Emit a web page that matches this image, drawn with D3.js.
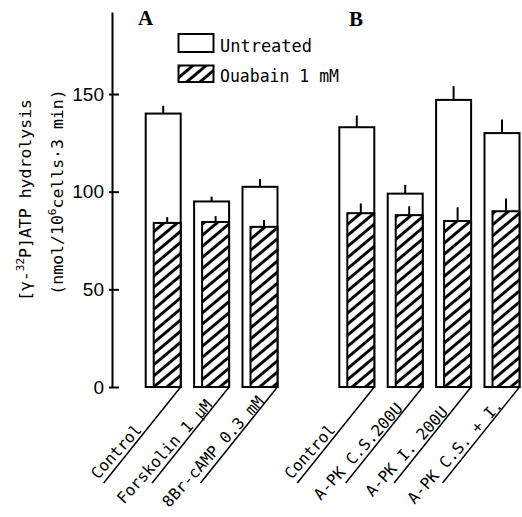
<!DOCTYPE html>
<html>
<head>
<meta charset="utf-8">
<script src="https://cdn.jsdelivr.net/npm/d3@7"></script>
<style>
  html, body { margin: 0; padding: 0; background: #fff; }
  svg { display: block; }
</style>
</head>
<body>
<script>
// ---- data ----
const categories = ["Control", "Forskolin 1 μM", "8Br-cAMP 0.3 mM",
                    "Control ", "A-PK C.S.200U", "A-PK I. 200U", "A-PK C.S. + I."];
const groups = ["A", "A", "A", "B", "B", "B", "B"];
const untreated = [140, 95, 102.5, 133, 99, 147, 130];
const untreatedErr = [4, 2.5, 4, 6, 4.5, 7, 7];
const ouabain = [84, 84.5, 82, 89, 88, 85, 90];
const ouabainErr = [3, 3, 3.5, 5, 4.5, 7, 6.5];
const yTicks = [0, 50, 100, 150];
const seriesNames = ["Untreated", "Ouabain 1 mM"];
const panelLabels = ["A", "B"];

const W = 522, H = 517;
const svg = d3.select("body").append("svg").attr("width", W).attr("height", H);

const defs = svg.append("defs");
const pat = defs.append("pattern")
  .attr("id", "hatch").attr("patternUnits", "userSpaceOnUse")
  .attr("width", 8.5).attr("height", 8.5)
  .attr("patternTransform", "rotate(-40)");
pat.append("rect").attr("width", 8.5).attr("height", 8.5).attr("fill", "#fff");
pat.append("line").attr("x1", 0).attr("x2", 8.5).attr("y1", 4.25).attr("y2", 4.25)
  .attr("stroke", "#000").attr("stroke-width", 3);

// slots: 3 bars, a gap, 4 bars
const slots = [categories[0], categories[1], categories[2], "__gap__",
               categories[3], categories[4], categories[5], categories[6]];
const x = d3.scaleBand().domain(slots).range([139, 526.2])
  .paddingInner(0.277).paddingOuter(0.1385);
const y = d3.scaleLinear().domain([0, 192]).range([387, 12]);

const axisX = 112;
const yAxis = d3.axisLeft(y).tickValues(yTicks).tickSize(-7).tickSizeOuter(0).tickPadding(8);
const ag = svg.append("g").attr("transform", `translate(${axisX},0)`).call(yAxis);
ag.select(".domain").attr("stroke", "#000").attr("stroke-width", 2);
ag.selectAll(".tick line").attr("x1", -3).attr("x2", 7).attr("stroke", "#000").attr("stroke-width", 2);
ag.selectAll(".tick text").attr("font-family", "Liberation Sans, Arial, sans-serif")
  .attr("font-size", 19).attr("fill", "#000");

const mono = "DejaVu Sans Mono, monospace";

// bars
const data = categories.map((c, i) => ({c, g: groups[i], u: untreated[i], ue: untreatedErr[i], o: ouabain[i], oe: ouabainErr[i]}));
const bw = x.bandwidth();
const inset = 8;
const bars = svg.append("g");
data.forEach(d => {
  const x0 = x(d.c);
  bars.append("rect").attr("x", x0).attr("y", y(d.u)).attr("width", bw).attr("height", y(0) - y(d.u))
    .attr("fill", "#fff").attr("stroke", "#000").attr("stroke-width", 2);
  bars.append("line").attr("x1", x0 + bw / 2).attr("x2", x0 + bw / 2)
    .attr("y1", y(d.u)).attr("y2", y(d.u + d.ue)).attr("stroke", "#000").attr("stroke-width", 2);
  bars.append("rect").attr("x", x0 + inset).attr("y", y(d.o)).attr("width", bw - inset).attr("height", y(0) - y(d.o))
    .attr("fill", "url(#hatch)").attr("stroke", "#000").attr("stroke-width", 2);
  const hc = x0 + inset + (bw - inset) / 2;
  bars.append("line").attr("x1", hc).attr("x2", hc)
    .attr("y1", y(d.o)).attr("y2", y(d.o + d.oe)).attr("stroke", "#000").attr("stroke-width", 2);

  // category label with slanted underline
  const cx = x0 + bw, cy = y(0);
  const lg = svg.append("g").attr("transform", `translate(${cx},${cy})`);
  lg.append("line").attr("x1", 0).attr("y1", 0).attr("x2", -77).attr("y2", 96)
    .attr("stroke", "#000").attr("stroke-width", 1.5);
  lg.append("text").attr("transform", "translate(-64,65) rotate(-48)")
    .attr("text-anchor", "middle").attr("dy", "0.3em")
    .attr("font-family", mono).attr("font-size", 15.8).attr("fill", "#000")
    .text(d.c.trim());
});

// panel labels
svg.append("text").attr("x", 145.5).attr("y", 25).attr("text-anchor", "middle")
  .attr("font-family", "Liberation Serif, serif").attr("font-weight", "bold").attr("font-size", 21)
  .text(panelLabels[0]);
svg.append("text").attr("x", 356).attr("y", 26).attr("text-anchor", "middle")
  .attr("font-family", "Liberation Serif, serif").attr("font-weight", "bold").attr("font-size", 21)
  .text(panelLabels[1]);

// legend
const leg = svg.append("g");
leg.append("rect").attr("x", 178.5).attr("y", 34).attr("width", 35).attr("height", 18)
  .attr("fill", "#fff").attr("stroke", "#000").attr("stroke-width", 2);
leg.append("text").attr("x", 220).attr("y", 52).attr("font-family", mono).attr("font-size", 18.5)
  .attr("textLength", 92).attr("lengthAdjust", "spacingAndGlyphs").text(seriesNames[0]);
leg.append("rect").attr("x", 178.5).attr("y", 65.5).attr("width", 35).attr("height", 16.5)
  .attr("fill", "url(#hatch)").attr("stroke", "#000").attr("stroke-width", 2);
leg.append("text").attr("x", 220).attr("y", 82).attr("font-family", mono).attr("font-size", 18.5)
  .attr("textLength", 119).attr("lengthAdjust", "spacingAndGlyphs").text(seriesNames[1]);

// y title
const t1 = svg.append("text").attr("transform", "translate(31,200) rotate(-90)")
  .attr("text-anchor", "middle").attr("font-family", mono).attr("font-size", 16.5);
t1.append("tspan").text("[γ-");
t1.append("tspan").attr("font-size", 11).attr("dy", -7).text("32");
t1.append("tspan").attr("dy", 7).text("P]ATP hydrolysis");
const t2 = svg.append("text").attr("transform", "translate(63,192) rotate(-90)")
  .attr("text-anchor", "middle").attr("font-family", mono).attr("font-size", 16.5);
t2.append("tspan").text("(nmol/10");
t2.append("tspan").attr("font-size", 11).attr("dy", -7).text("6");
t2.append("tspan").attr("dy", 7).text("cells·3 min)");
</script>
</body>
</html>
